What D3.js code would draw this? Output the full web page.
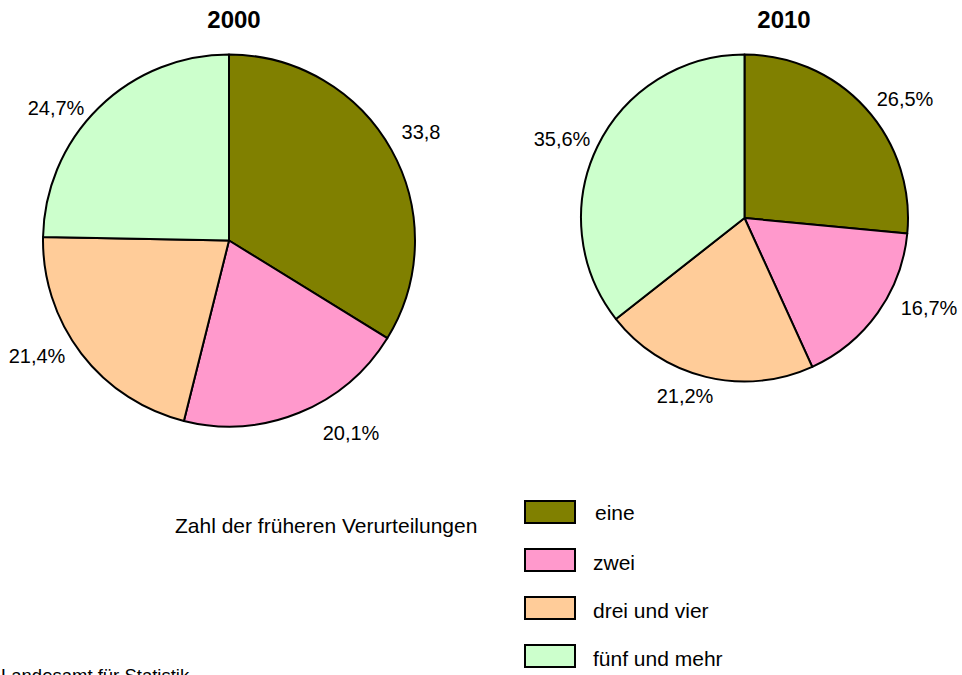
<!DOCTYPE html>
<html><head><meta charset="utf-8">
<script src="https://cdn.jsdelivr.net/npm/d3@7"></script>
<style>body{margin:0;background:#fff}svg{display:block}text{font-family:Arial,"Liberation Sans",sans-serif}</style>
</head><body>
<svg id="c" width="962" height="675"></svg>
<script>
const categories = ["eine", "zwei", "drei und vier", "fünf und mehr"];
const years = ["2000", "2010"];
const values2000 = [33.8, 20.1, 21.4, 24.7];
const values2010 = [26.5, 16.7, 21.2, 35.6];
const labels2000 = ["33,8", "20,1%", "21,4%", "24,7%"];
const labels2010 = ["26,5%", "16,7%", "21,2%", "35,6%"];
const colors = ["#808000", "#ff99cc", "#ffcc99", "#ccffcc"];
const legendTitle = "Zahl der früheren Verurteilungen";
const footer = "Landesamt für Statistik";

const svg = d3.select("#c");
const color = d3.scaleOrdinal().domain(categories).range(colors);
const pie = d3.pie().sort(null).value(d => d.v);

const pies = [
  {year: years[0], vals: values2000, labels: labels2000, cx: 229, cy: 240.5, r: 186, tx: 234,
   lpos: [[421, 139], [351, 440], [37, 363], [56, 115]]},
  {year: years[1], vals: values2010, labels: labels2010, cx: 744.5, cy: 218, r: 163.5, tx: 784,
   lpos: [[905, 106], [929, 315], [685, 403], [562, 146]]}
];

pies.forEach(p => {
  const data = categories.map((c, i) => ({c, v: p.vals[i]}));
  const arcs = pie(data);
  const g = svg.append("g").attr("transform", `translate(${p.cx},${p.cy})`);
  const arc = d3.arc().innerRadius(0).outerRadius(p.r);
  g.selectAll("path").data(arcs).join("path")
    .attr("d", arc).attr("fill", d => color(d.data.c))
    .attr("stroke", "#000").attr("stroke-width", 2).attr("stroke-linejoin", "round");
  svg.append("text").attr("x", p.tx).attr("y", 28).attr("text-anchor", "middle")
    .attr("font-size", 24).attr("font-weight", "bold").text(p.year);
  svg.selectAll(null).data(p.labels).join("text")
    .attr("x", (d, i) => p.lpos[i][0]).attr("y", (d, i) => p.lpos[i][1])
    .attr("text-anchor", "middle").attr("font-size", 20).text(d => d);
});

svg.append("text").attr("x", 175).attr("y", 533).attr("font-size", 21).text(legendTitle);
const lg = svg.append("g");
categories.forEach((c, i) => {
  const y = 501 + i * 48;
  lg.append("rect").attr("x", 525).attr("y", y).attr("width", 50).attr("height", 22)
    .attr("fill", color(c)).attr("stroke", "#000").attr("stroke-width", 2);
  lg.append("text").attr("x", i === 0 ? 595 : 593).attr("y", y + (i === 0 ? 19 : 21)).attr("font-size", 21).text(c);
});
svg.append("text").attr("x", 1).attr("y", 682).attr("font-size", 18.5).text(footer);
</script>
</body></html>
